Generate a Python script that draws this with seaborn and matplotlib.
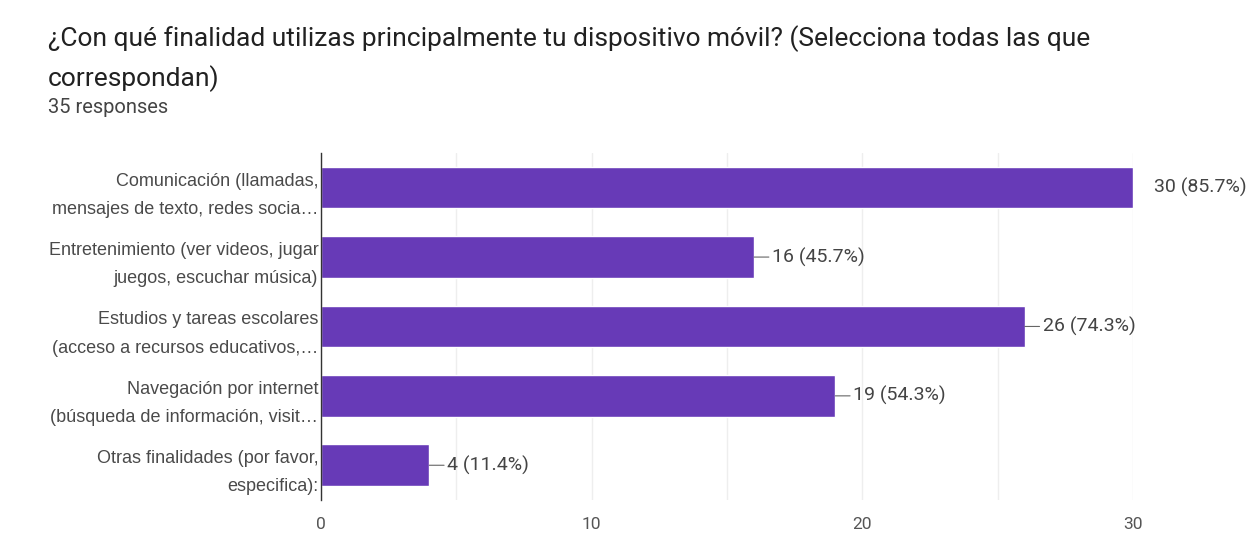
import matplotlib
matplotlib.use("Agg")
import matplotlib.pyplot as plt
import seaborn as sns
import pandas as pd

categories = [
    "Comunicación (llamadas,\nmensajes de texto, redes socia…",
    "Entretenimiento (ver videos, jugar\njuegos, escuchar música)",
    "Estudios y tareas escolares\n(acceso a recursos educativos,…",
    "Navegación por internet\n(búsqueda de información, visit…",
    "Otras finalidades (por favor,\nespecifica):",
]
counts = [30, 16, 26, 19, 4]
total_responses = 35
x_ticks = [0, 10, 20, 30]

sns.set_theme(style="white")
plt.rcParams["font.family"] = ["Roboto", "DejaVu Sans"]

df = pd.DataFrame({"categoria": categories, "respuestas": counts})

fig = plt.figure(figsize=(12.56, 5.33), dpi=100)
ax = fig.add_axes([0.2556, 0.062, 0.6465, 0.651])

sns.barplot(data=df, x="respuestas", y="categoria", color="#673ab7",
            saturation=1, width=0.6, ax=ax, orient="h")

ax.set_xlim(0, 30)
ax.set_ylim(4.5, -0.5)
for v in range(0, 31, 5):
    ax.axvline(v, color="#eeeeee", lw=1, zorder=0)
ax.set_xticks(x_ticks)
ax.set_xticklabels([str(t) for t in x_ticks], color="#555555", fontsize=12.5)
ax.set_yticks(range(len(categories)))
ax.set_yticklabels(categories, fontsize=13, color="#4a4a4a",
                   family=["Liberation Sans", "DejaVu Sans"], linespacing=1.85)
ax.tick_params(axis="x", length=0, pad=12)
ax.tick_params(axis="y", length=0, pad=2)
ax.set_xlabel("")
ax.set_ylabel("")
for side in ["top", "right", "bottom"]:
    ax.spines[side].set_visible(False)
ax.spines["left"].set_color("#333333")
ax.spines["left"].set_linewidth(1)

# value annotations with a short leader line
for i, c in enumerate(counts):
    pct = c / total_responses * 100
    label = f"{c} ({pct:.1f}%)"
    if c >= 30:
        ax.annotate(label, xy=(c, i), xytext=(15, 0), textcoords="offset points",
                    va="center", ha="left", fontsize=14, color="#444444",
                    annotation_clip=False)
    else:
        ax.annotate(label, xy=(c, i), xytext=(13, 0), textcoords="offset points",
                    va="center", ha="left", fontsize=14, color="#444444",
                    arrowprops=dict(arrowstyle="-", color="#666666", lw=0.8,
                                    shrinkA=0, shrinkB=0))

fig.text(0.038, 0.927, "¿Con qué finalidad utilizas principalmente tu dispositivo móvil? (Selecciona todas las que",
         fontsize=19, color="#212121", va="center", ha="left")
fig.text(0.038, 0.852, "correspondan)", fontsize=19, color="#212121", va="center", ha="left")
fig.text(0.038, 0.799, f"{total_responses} responses", fontsize=14.5, color="#444444",
         va="center", ha="left")

fig.savefig("out.png", dpi=100, facecolor="white")
